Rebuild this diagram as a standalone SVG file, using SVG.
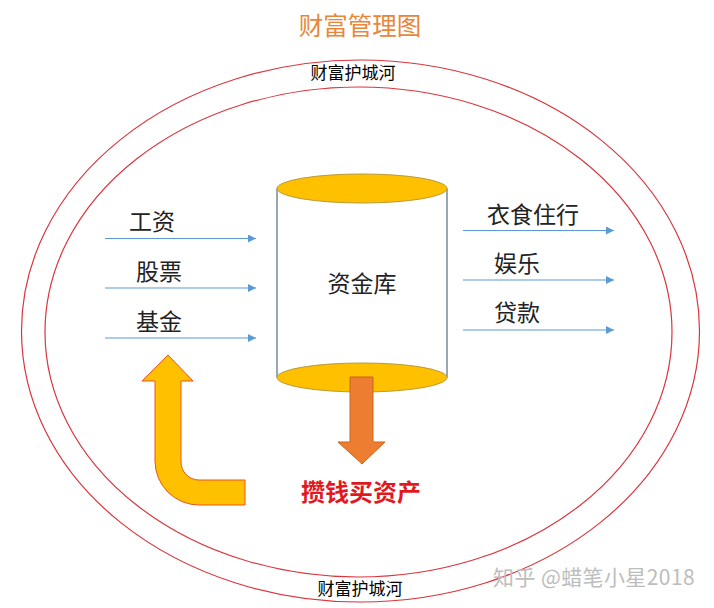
<svg xmlns="http://www.w3.org/2000/svg" width="714" height="608" viewBox="0 0 714 608">
<defs>
<style>
.cjk{font-family:"Noto Sans CJK SC","Liberation Sans",sans-serif}
.lbl{font-size:23px;fill:#222}
.moat{font-size:17px;fill:#000}
.flow{stroke:#5B9BD5;stroke-width:1.2;fill:none;marker-end:url(#ah)}
</style>
<marker id="ah" viewBox="0 0 10 10" refX="10" refY="5" markerWidth="8" markerHeight="8" markerUnits="userSpaceOnUse" orient="auto">
<path d="M0,0 L10,5 L0,10 Z" fill="#5B9BD5"/>
</marker>
</defs>
<rect width="714" height="608" fill="#fff"/>
<text class="cjk" x="360" y="35" font-size="24.5" fill="#E8873A" text-anchor="middle">财富管理图</text>
<g id="moat">
<ellipse cx="360.5" cy="331" rx="339" ry="271" fill="none" stroke="#D9363E" stroke-width="1.2"/>
<ellipse cx="358.5" cy="332" rx="313.5" ry="245" fill="none" stroke="#D9363E" stroke-width="1.2"/>
<text class="cjk moat" x="353" y="79" text-anchor="middle">财富护城河</text>
<text class="cjk moat" x="360" y="595" text-anchor="middle">财富护城河</text>
</g>
<g id="vault">
<line x1="277" y1="188.5" x2="277" y2="377.5" stroke="#4F6E80" stroke-width="1.2"/>
<line x1="447" y1="188.5" x2="447" y2="377.5" stroke="#4F6E80" stroke-width="1.2"/>
<ellipse cx="362" cy="377.5" rx="85" ry="14.5" fill="#FFC000" stroke="#B89A3A" stroke-width="1"/>
<ellipse cx="362" cy="188.5" rx="85" ry="14.5" fill="#FFC000" stroke="#B89A3A" stroke-width="1"/>
<text class="cjk" x="362" y="292" font-size="23" fill="#222" text-anchor="middle">资金库</text>
</g>
<g id="invest">
<path d="M350,377 L373,377 L373,442 L385,442 L362,464 L338,442 L350,442 Z" fill="#ED7D31" stroke="#C9651F" stroke-width="1"/>
<text class="cjk" x="361" y="501" font-size="24" font-weight="bold" fill="#E3181F" text-anchor="middle">攒钱买资产</text>
</g>
<g id="reinvest">
<path d="M168,355 L193,381 L181,381 L181,462 A18,18 0 0 0 199,480 L245,480 L245,505 L199,505 A44,44 0 0 1 155,461 L155,381 L142,381 Z" fill="#FFC000" stroke="#E8541E" stroke-width="1"/>
</g>
<g id="income">
<text class="cjk lbl" x="129" y="230">工资</text>
<text class="cjk lbl" x="136" y="280">股票</text>
<text class="cjk lbl" x="136" y="330">基金</text>
</g>
<g id="spending">
<text class="cjk lbl" x="487" y="223">衣食住行</text>
<text class="cjk lbl" x="494" y="272">娱乐</text>
<text class="cjk lbl" x="494" y="321">贷款</text>
</g>
<g id="connectors">
<line class="flow" x1="105" y1="238.5" x2="256" y2="238.5"/>
<line class="flow" x1="105" y1="288" x2="256" y2="288"/>
<line class="flow" x1="105" y1="338" x2="256" y2="338"/>
<line class="flow" x1="463" y1="230.5" x2="614" y2="230.5"/>
<line class="flow" x1="463" y1="280" x2="614" y2="280"/>
<line class="flow" x1="463" y1="330" x2="614" y2="330"/>
</g>
<text class="cjk" x="493" y="585" font-size="21" fill="#BDBDBD" letter-spacing="0.4">知乎 @蜡笔小星2018</text>
</svg>
